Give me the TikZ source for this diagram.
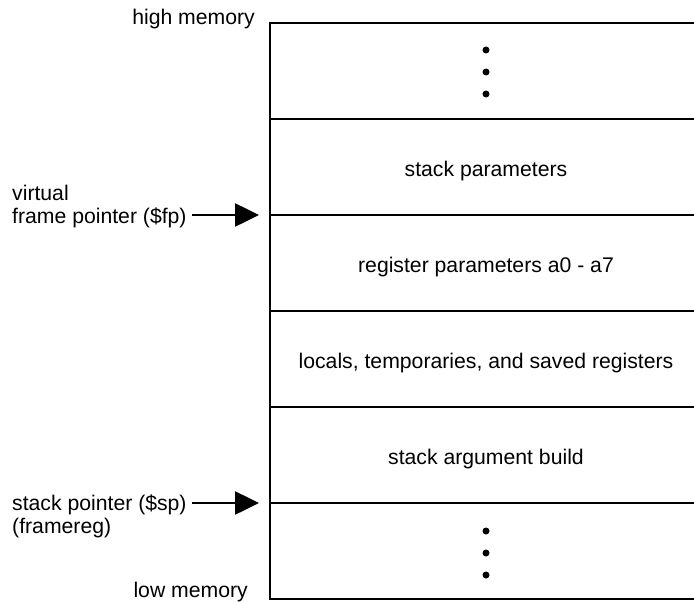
\documentclass[tikz,border=0pt]{standalone}
\usepackage{fontspec}
\setmainfont{Liberation Sans}
\usetikzlibrary{arrows.meta}
\begin{document}
\begin{tikzpicture}[x=1pt,y=-1pt,
  frameline/.style={line width=2.8pt},
  celltext/.style={font=\fontsize{21.2}{23}\selectfont, anchor=base, inner sep=0pt},
  sidetext/.style={font=\fontsize{21.2}{23}\selectfont, inner sep=0pt},
  pointer/.style={line width=2.6pt, -{Triangle[length=24pt,width=23pt]}},
  dotmark/.style={circle, fill=black, inner sep=0pt, minimum size=7pt}]
\useasboundingbox (0,0) rectangle (694,602);
% frame
\coordinate (tl) at (270,23);
\coordinate (bl) at (270,599);
\draw[frameline] (694,23) -- (tl) -- (bl) -- (694,599);
\foreach \y/\n in {119/a,215/fp,311/b,407/c,503/sp}
  \draw[frameline] (270,\y) coordinate (l\n) -- (694,\y);
% cell texts
\node[celltext] (t1) at (486,176) {stack parameters};
\node[celltext] (t2) at (486,272) {register parameters a0 - a7};
\node[celltext] (t3) at (486,368) {locals, temporaries, and saved registers};
\node[celltext] (t4) at (486,464) {stack argument build};
% dots
\foreach \y [count=\i] in {50,72,94} \node[dotmark] (u\i) at (486,\y) {};
\foreach \y [count=\i] in {531,553,575} \node[dotmark] (d\i) at (486,\y) {};
% side labels
\node[sidetext, anchor=base east] (hm) at (255,25) {high memory};
\node[sidetext, anchor=base east] (lm) at (248,597) {low memory};
\node[sidetext, anchor=base west] (v1) at (12,200) {virtual};
\node[sidetext, anchor=base west] (v2) at (12,223) {frame pointer (\$fp)};
\node[sidetext, anchor=base west] (s1) at (12,510) {stack pointer (\$sp)};
\node[sidetext, anchor=base west] (s2) at (12,533) {(framereg)};
% arrows
\coordinate (fpstart) at (192,215);
\coordinate (spstart) at (192,503);
\coordinate (fptip) at (259,215);
\coordinate (sptip) at (259,503);
\draw[pointer] (fpstart) -- (fptip);
\draw[pointer] (spstart) -- (sptip);
\end{tikzpicture}
\end{document}
